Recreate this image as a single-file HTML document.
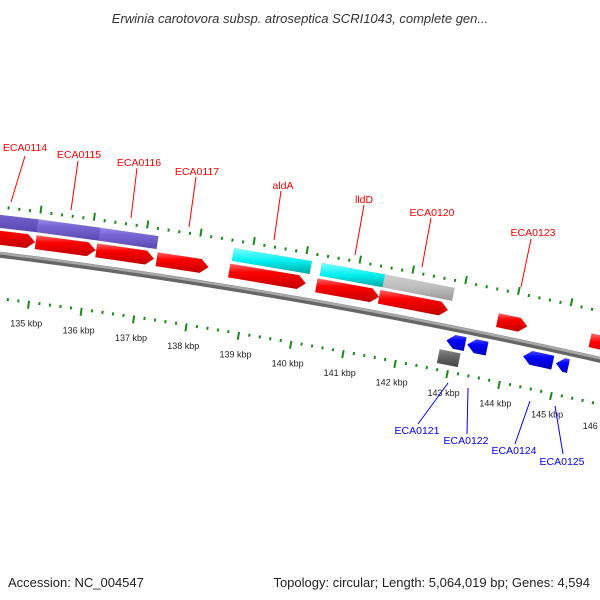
<!DOCTYPE html>
<html><head><meta charset="utf-8"><style>
body{margin:0;background:#fff}
svg{display:block;font-family:"Liberation Sans","DejaVu Sans",sans-serif}
</style></head><body>
<svg id="map" width="600" height="600" viewBox="0 0 600 600">
<defs>
<linearGradient id="gRed" x1="0" y1="0" x2="0" y2="1"><stop offset="0" stop-color="#ff6a6a"/><stop offset="0.35" stop-color="#ff0000"/><stop offset="1" stop-color="#c00000"/></linearGradient>
<linearGradient id="gBlue" x1="0" y1="0" x2="0" y2="1"><stop offset="0" stop-color="#4a4aff"/><stop offset="0.35" stop-color="#0000ff"/><stop offset="1" stop-color="#0000b0"/></linearGradient>
<linearGradient id="gPurple" x1="0" y1="0" x2="0" y2="1"><stop offset="0" stop-color="#9a8ae6"/><stop offset="0.3" stop-color="#7b68d8"/><stop offset="1" stop-color="#5a48b0"/></linearGradient>
<linearGradient id="gCyan" x1="0" y1="0" x2="0" y2="1"><stop offset="0" stop-color="#7fffff"/><stop offset="0.5" stop-color="#00f0f0"/><stop offset="1" stop-color="#00a8a8"/></linearGradient>
<linearGradient id="gGray" x1="0" y1="0" x2="0" y2="1"><stop offset="0" stop-color="#d0d0d0"/><stop offset="0.5" stop-color="#bdbdbd"/><stop offset="1" stop-color="#999"/></linearGradient>
<linearGradient id="gDark" x1="0" y1="0" x2="0" y2="1"><stop offset="0" stop-color="#888"/><stop offset="0.4" stop-color="#666"/><stop offset="1" stop-color="#444"/></linearGradient>
</defs>
<text x="300" y="23" text-anchor="middle" font-size="13" font-style="italic" fill="#333">Erwinia carotovora subsp. atroseptica SCRI1043, complete gen...</text>
<g id="layer"></g>
<text x="8" y="587" font-size="13" fill="#222">Accession: NC_004547</text>
<text x="590" y="587" text-anchor="end" font-size="13" fill="#222">Topology: circular; Length: 5,064,019 bp; Genes: 4,594</text>
</svg>
<script>
// data (kbp)
const tickKbp = [133,134,135,136,137,138,139,140,141,142,143,144,145,146,147];
const tickLabels = ["133 kbp","134 kbp","135 kbp","136 kbp","137 kbp","138 kbp","139 kbp","140 kbp","141 kbp","142 kbp","143 kbp","144 kbp","145 kbp","146 kbp","147 kbp"];
const fwdStarts = [133.0,134.98,136.12,137.26,138.63,140.28,141.47,143.72,145.49];
const fwdEnds   = [134.97,136.11,137.21,138.24,140.08,141.47,142.78,144.29,146.6];
const cogStarts = [132.0,134.98,136.14,138.65,140.31,141.5];
const cogEnds   = [134.98,136.14,137.23,140.12,141.5,142.82];
const cogColors = ["gPurple","gPurple","gPurple","gCyan","gCyan","gGray"];
const revStarts = [142.86,143.26,144.33,144.96];
const revEnds   = [143.22,143.64,144.90,145.20];
const otherStarts = [142.77];
const otherEnds   = [143.17];

const NS="http://www.w3.org/2000/svg";
const layer=document.getElementById('layer');
const CX=-768, CY=6407, A0=0.1298, K=0.00862;
function ang(k){return A0+(k-135)*K;}
function pt(r,k){const a=ang(k);return [CX+r*Math.sin(a),CY-r*Math.cos(a)];}
function P(p){return p[0].toFixed(2)+','+p[1].toFixed(2);}
function mk(tag,attrs){const e=document.createElementNS(NS,tag);for(const k in attrs)e.setAttribute(k,attrs[k]);layer.appendChild(e);return e;}

// backbone
let bb=[];for(let k=132;k<=148.001;k+=0.25)bb.push(P(pt(6200,k)));
let e=mk('polyline',{points:bb.join(' '),fill:'none',stroke:'#666','stroke-width':6});


bb=[];for(let k=132;k<=148.001;k+=0.25)bb.push(P(pt(6201.5,k)));
e=mk('polyline',{points:bb.join(' '),fill:'none',stroke:'#a8a8a8','stroke-width':2.5});



// rulers
function ruler(r,dir,name){
  for(let i=133*5;i<=147*5;i++){
    const k=i/5, major=(i%5===0);
    const len=major?8:3;
    const a=pt(r,k), b=pt(r+dir*len,k);
    const l=mk('line',{x1:a[0],y1:a[1],x2:b[0],y2:b[1],stroke:'#1a8a1a','stroke-width':2});
    
    
  }
}
ruler(6246,1,'outer-ruler');
ruler(6158,-1,'inner-ruler');
tickKbp.forEach((k,i)=>{
  const p=pt(6136,k);
  const t=mk('text',{x:p[0],y:p[1]+4,'text-anchor':'middle','font-size':9,fill:'#222'});
  t.textContent=tickLabels[i];
  
  
});

function fwd(s,en,r1,r2,fill,name){
  const h=Math.min(0.15,(en-s));
  const pts=[pt(r1,s),pt(r1,en-h),pt((r1+r2)/2,en),pt(r2,en-h),pt(r2,s)].map(P).join(' ');
  const g=mk('polygon',{points:pts,fill:'url(#'+fill+')'});
  
  
}
function rev(s,en,r1,r2,fill,name){
  const h=Math.min(0.15,(en-s));
  const pts=[pt((r1+r2)/2,s),pt(r1,s+h),pt(r1,en),pt(r2,en),pt(r2,s+h)].map(P).join(' ');
  const g=mk('polygon',{points:pts,fill:'url(#'+fill+')'});
  
  
}
function box(s,en,r1,r2,fill,name){
  const pts=[pt(r1,s),pt(r1,en),pt(r2,en),pt(r2,s)].map(P).join(' ');
  const g=mk('polygon',{points:pts,fill:'url(#'+fill+')',stroke:'rgba(0,0,0,0.08)','stroke-width':0.5});
  
  
}
cogStarts.forEach((s,i)=>box(s,cogEnds[i],6240,6227,cogColors[i],'cog-feature'));
fwdStarts.forEach((s,i)=>fwd(s,fwdEnds[i],6224,6210,'gRed','forward-gene'));
revStarts.forEach((s,i)=>rev(s,revEnds[i],6194,6180,'gBlue','reverse-gene'));
otherStarts.forEach((s,i)=>box(s,otherEnds[i],6177,6163,'gDark','reverse-other-feature'));

// gene labels
const labels=[
 ["ECA0114",25,147,25,156,11,202,"red"],
 ["ECA0115",79,154,78,161,71,210,"red"],
 ["ECA0116",139,162,137,168,131,218,"red"],
 ["ECA0117",197,171,196,177,189,227,"red"],
 ["aldA",283,185,281,191,274,240,"red"],
 ["lldD",364,199,364,205,355,255,"red"],
 ["ECA0120",432,212,431,218,422,267,"red"],
 ["ECA0123",533,232,531,239,521,287,"red"],
 ["ECA0121",417,430,418,424,448,383,"blue"],
 ["ECA0122",466,440,467,434,468,388,"blue"],
 ["ECA0124",514,450,515,444,530,401,"blue"],
 ["ECA0125",562,461,563,454,555,406,"blue"]
];
labels.forEach(L=>{
  const c=L[7]==="red"?"#ff0000":"#0000ff";
  const l=mk('line',{x1:L[3],y1:L[4],x2:L[5],y2:L[6],stroke:c,'stroke-width':1});
  
  
  const t=mk('text',{x:L[1],y:L[2]+4,'text-anchor':'middle','font-size':10.5,fill:c});
  t.textContent=L[0];
  
  
});
</script>
</body></html>
